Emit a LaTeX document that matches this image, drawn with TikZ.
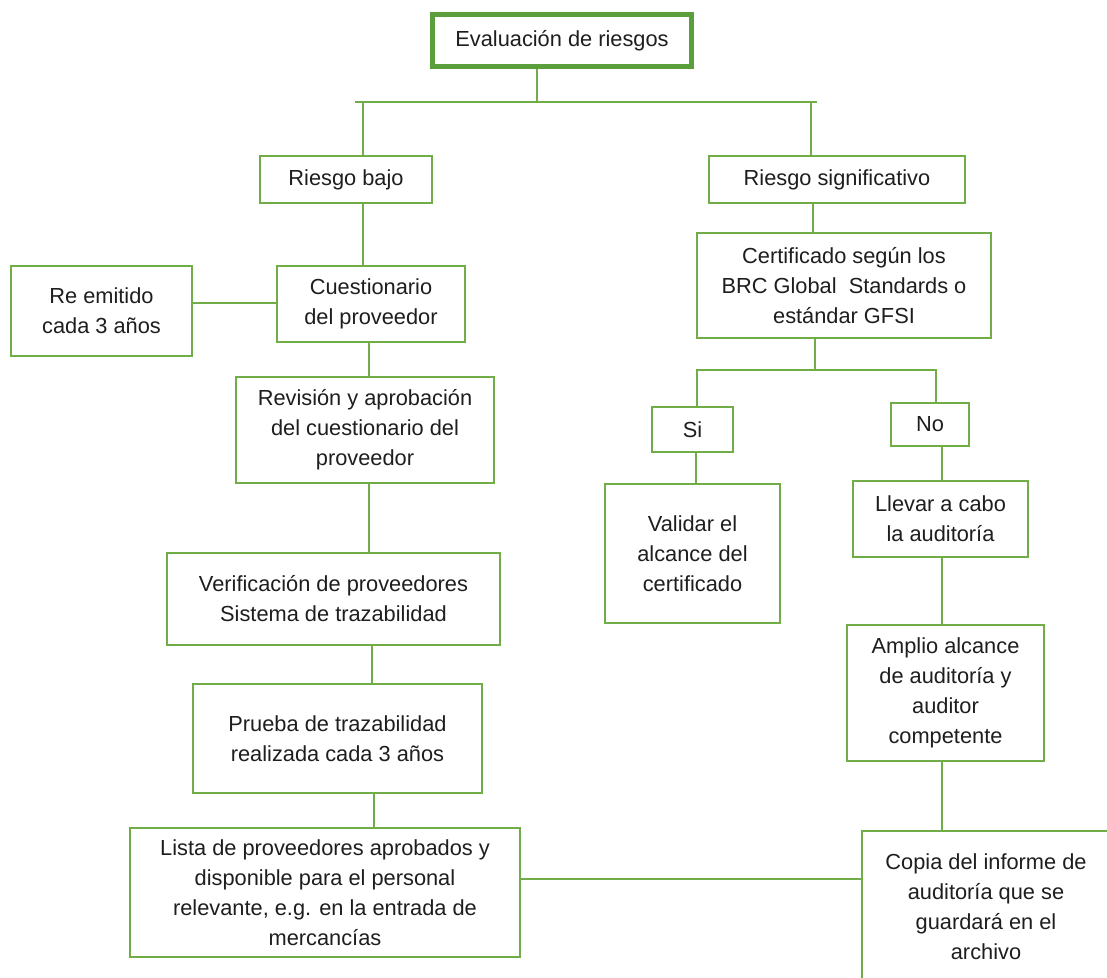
\documentclass[tikz,border=0pt]{standalone}
\usepackage{fontspec}
\setmainfont{Liberation Sans}
\definecolor{gline}{HTML}{70AD47}
\definecolor{gtop}{HTML}{5B9E3C}
\definecolor{txt}{HTML}{1E1E1E}
\begin{document}
\begin{tikzpicture}[x=1pt,y=-1pt,
  box/.style={draw=gline, line width=2pt, align=center, text=txt, inner sep=0pt,
    font=\fontsize{21.8}{30}\selectfont},
  topbox/.style={box, draw=gtop, line width=5pt},
  link/.style={draw=gline, line width=2pt}]
\useasboundingbox[fill=white] (0,0) rectangle (1107,977);

% nodes
\node[topbox, minimum width=259, minimum height=52] (top) at (562,40.5) {Evaluación de riesgos};
\node[box, minimum width=172, minimum height=47] (rb) at (346,179.5) {Riesgo bajo};
\node[box, minimum width=256, minimum height=47] (rs) at (837,179.5) {Riesgo significativo};
\node[box, minimum width=181, minimum height=90] (re) at (101.5,311) {Re emitido\\cada 3 años};
\node[box, minimum width=188, minimum height=76] (cuest) at (371,304) {Cuestionario\\del proveedor};
\node[box, minimum width=294, minimum height=105] (cert) at (844,285.5) {Certificado según los\\BRC Global\ \ Standards o\\estándar GFSI};
\node[box, minimum width=258, minimum height=106] (rev) at (365,430) {Revisión y aprobación\\del cuestionario del\\proveedor};
\node[box, minimum width=81, minimum height=45] (si) at (692.5,429.5) {Si};
\node[box, minimum width=78, minimum height=43] (no) at (930,424.5) {No};
\node[box, minimum width=175, minimum height=139] (val) at (692.5,553.5) {Validar el\\alcance del\\certificado};
\node[box, minimum width=175, minimum height=76] (llev) at (940.5,519) {Llevar a cabo\\la auditoría};
\node[box, minimum width=333, minimum height=92] (ver) at (333.5,599) {Verificación de proveedores\\Sistema de trazabilidad};
\node[box, minimum width=197, minimum height=136] (amp) at (945.5,693) {Amplio alcance\\de auditoría y\\auditor\\competente};
\node[box, minimum width=289, minimum height=109] (pru) at (337.5,738.5) {Prueba de trazabilidad\\realizada cada 3 años};
\node[box, minimum width=390, minimum height=129] (lista) at (325,892.5) {Lista de proveedores aprobados y\\disponible para el personal\\relevante, e.g. en la entrada de\\mercancías};
\node[box, minimum width=248, minimum height=151] (copia) at (986,906.5) {Copia del informe de\\auditoría que se\\guardará en el\\archivo};

% junction coordinates
\coordinate (jt) at (537,102);
\coordinate (hl) at (355,102);
\coordinate (hr) at (817,102);
\coordinate (cl) at (363,102);
\coordinate (cr) at (811,102);
\coordinate (yre) at (0,303);
\coordinate (xa) at (369,0);
\coordinate (xb) at (372,0);
\coordinate (xc) at (374,0);
\coordinate (yb) at (0,879);
\coordinate (xr) at (813,0);
\coordinate (js) at (815,370);
\coordinate (sl) at (697,370);
\coordinate (sr) at (936,370);
\coordinate (xs) at (696,0);
\coordinate (xn) at (942,0);

% connectors
\draw[link] (top.south -| jt) -- (jt);
\draw[link] (hl) -- (hr);
\draw[link] (cl) -- (cl |- rb.north);
\draw[link] (cr) -- (cr |- rs.north);
\draw[link] (cl |- rb.south) -- (cl |- cuest.north);
\draw[link] (re.east |- yre) -- (cuest.west |- yre);
\draw[link] (cuest.south -| xa) -- (rev.north -| xa);
\draw[link] (rev.south -| xa) -- (ver.north -| xa);
\draw[link] (ver.south -| xb) -- (pru.north -| xb);
\draw[link] (pru.south -| xc) -- (lista.north -| xc);
\draw[link] (lista.east |- yb) -- (copia.west |- yb);
\draw[link] (rs.south -| xr) -- (cert.north -| xr);
\draw[link] (cert.south -| js) -- (js);
\draw[link] (sl |- si.north) -- (sl) -- (sr) -- (sr |- no.north);
\draw[link] (si.south -| xs) -- (val.north -| xs);
\draw[link] (no.south -| xn) -- (llev.north -| xn);
\draw[link] (llev.south -| xn) -- (amp.north -| xn);
\draw[link] (amp.south -| xn) -- (copia.north -| xn);
\end{tikzpicture}
\end{document}
